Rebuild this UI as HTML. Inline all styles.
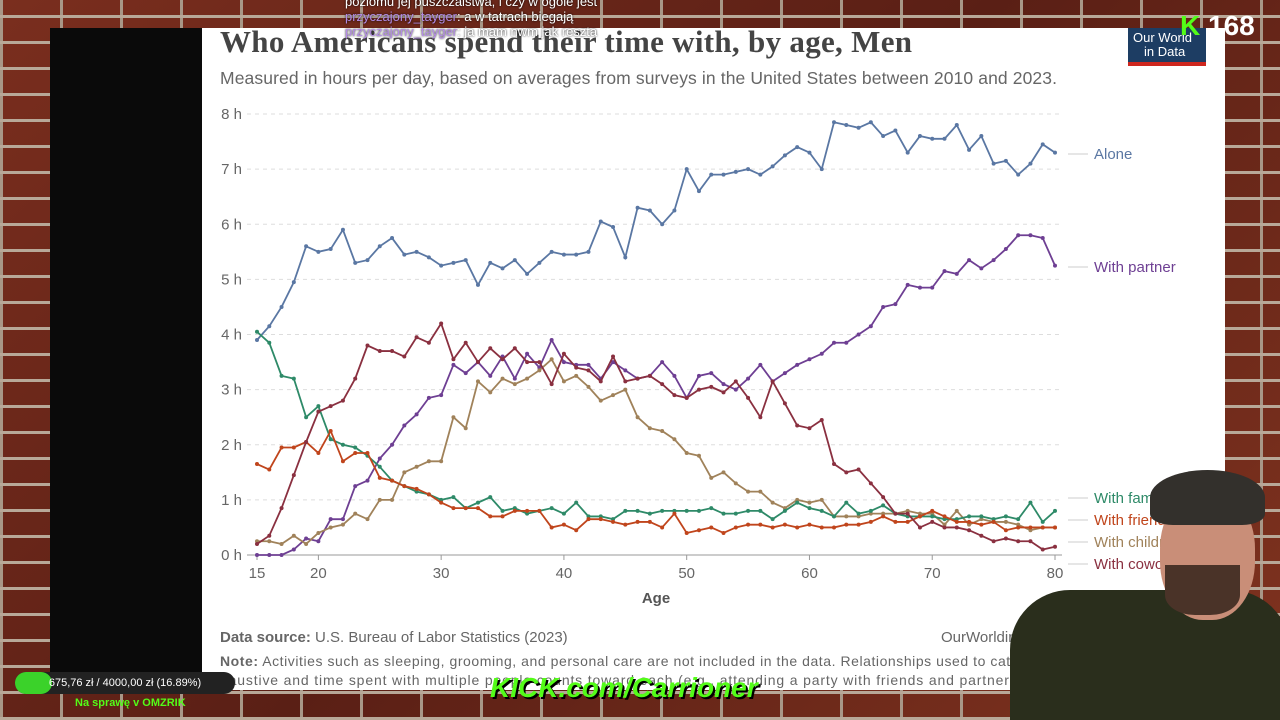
<!DOCTYPE html>
<html><head><meta charset="utf-8"><style>
html,body{margin:0;padding:0;width:1280px;height:720px;overflow:hidden;font-family:"Liberation Sans",sans-serif;position:relative}
#bg{position:absolute;left:0;top:0;width:1280px;height:720px;background:#6e2a1c;
background-image:repeating-linear-gradient(0deg,#b8a898 0 3px,transparent 3px 26px),repeating-linear-gradient(90deg,#a89787 0 3px,transparent 3px 60px),linear-gradient(135deg,#7a2e1e,#5a1f15 50%,#80331f);}
</style></head><body>
<div id="bg"></div>
<div style="position:absolute;left:50px;top:28px;width:152px;height:662px;background:#0a0a0a"></div>
<svg id="chart" width="1280" height="720" style="position:absolute;left:0;top:0">
<rect x="202" y="28" width="1023" height="662" fill="#fff"/>
<text x="220" y="52" font-family="Liberation Serif,serif" font-size="31" font-weight="bold" fill="#444" textLength="692">Who Americans spend their time with, by age, Men</text>
<text x="220" y="84" font-size="17.5" fill="#666" textLength="837">Measured in hours per day, based on averages from surveys in the United States between 2010 and 2023.</text>
<g id="grid"></g><g id="series"></g><g id="labels"></g>
<text x="656" y="603" font-size="15" font-weight="bold" fill="#555" text-anchor="middle">Age</text>
<text x="220" y="642" font-size="15" fill="#666"><tspan font-weight="bold">Data source:</tspan> U.S. Bureau of Labor Statistics (2023)</text>
<text x="941" y="642" font-size="15" fill="#666">OurWorldinData.org</text>
<text x="220" y="666" font-size="14" fill="#666" textLength="840"><tspan font-weight="bold">Note:</tspan> Activities such as sleeping, grooming, and personal care are not included in the data. Relationships used to categorize</text>
<text x="220" y="685" font-size="14" fill="#666" textLength="840">haustive and time spent with multiple people counts toward each (e.g., attending a party with friends and partner counts</text>
<rect x="1128" y="28" width="78" height="38" fill="#1d3d63"/>
<rect x="1128" y="62" width="78" height="4" fill="#ce261e"/>
<text x="1133" y="42" font-size="13" fill="#fff">Our World</text><text x="1144" y="56" font-size="13" fill="#fff">in Data</text>
</svg>
<div style="position:absolute;left:1180px;top:10px;color:#fff;font-size:28px;font-weight:bold"><span style="color:#53fc18">K</span> 168</div>
<div style="position:absolute;left:345px;top:-6px;color:#fff;font-size:13px;text-shadow:0 0 2px #000">poziomu jej puszczalstwa, i czy w ogóle jest<br><span style="color:#b48ce6">przyczajony_tayger</span>: a w tatrach biegają<br><span style="color:#b48ce6">przyczajony_tayger</span>: ja mam nwm jak reszta</div>
<div style="position:absolute;left:990px;top:470px;width:290px;height:250px;overflow:hidden">
<div style="position:absolute;left:20px;top:120px;width:280px;height:140px;background:#2a2e1c;border-radius:60px 60px 0 0"></div>
<div style="position:absolute;left:170px;top:20px;width:95px;height:130px;background:#c98e78;border-radius:45%"></div>
<div style="position:absolute;left:160px;top:0px;width:115px;height:55px;background:#33302c;border-radius:50% 50% 20% 20%"></div>
<div style="position:absolute;left:175px;top:95px;width:75px;height:50px;background:#4a3328;border-radius:0 0 40% 40%"></div>
</div>
<div style="position:absolute;left:15px;top:672px;width:220px;height:22px;background:#222;border-radius:11px;color:#fff;font-size:11px;line-height:22px;text-align:center"><div style="position:absolute;left:0;top:0;width:37px;height:22px;background:#3bd22a;border-radius:11px"></div><span style="position:relative">675,76 zł / 4000,00 zł (16.89%)</span></div>
<div style="position:absolute;left:75px;top:697px;color:#53fc18;font-size:11px;font-weight:bold">Na sprawę v OMZRIK</div>
<div style="position:absolute;left:490px;top:672px;color:#53fc18;font-size:28px;font-weight:bold;font-style:italic;text-shadow:2px 2px 0 #000">KICK.com/Carrioner</div>
<script>
const ages=[];for(let a=15;a<=80;a++)ages.push(a);
const yTicks=[0,1,2,3,4,5,6,7,8];
const xTicks=[15,20,30,40,50,60,70,80];
const alone=[3.9,4.15,4.5,4.95,5.6,5.5,5.55,5.9,5.3,5.35,5.6,5.75,5.45,5.5,5.4,5.25,5.3,5.35,4.9,5.3,5.2,5.35,5.1,5.3,5.5,5.45,5.45,5.5,6.05,5.95,5.4,6.3,6.25,6.0,6.25,7.0,6.6,6.9,6.9,6.95,7.0,6.9,7.05,7.25,7.4,7.3,7.0,7.85,7.8,7.75,7.85,7.6,7.7,7.3,7.6,7.55,7.55,7.8,7.35,7.6,7.1,7.15,6.9,7.1,7.45,7.3];
const partner=[0,0,0,0.1,0.3,0.25,0.65,0.65,1.25,1.35,1.75,2.0,2.35,2.55,2.85,2.9,3.45,3.3,3.5,3.25,3.6,3.2,3.65,3.4,3.9,3.5,3.45,3.45,3.2,3.5,3.35,3.2,3.25,3.5,3.25,2.85,3.25,3.3,3.1,3.0,3.2,3.45,3.15,3.3,3.45,3.55,3.65,3.85,3.85,4.0,4.15,4.5,4.55,4.9,4.85,4.85,5.15,5.1,5.35,5.2,5.35,5.55,5.8,5.8,5.75,5.25];
const family=[4.05,3.85,3.25,3.2,2.5,2.7,2.1,2.0,1.95,1.8,1.6,1.35,1.25,1.15,1.1,1.0,1.05,0.85,0.95,1.05,0.8,0.85,0.75,0.8,0.85,0.75,0.95,0.7,0.7,0.65,0.8,0.8,0.75,0.8,0.8,0.8,0.8,0.85,0.75,0.75,0.8,0.8,0.65,0.8,0.95,0.85,0.8,0.7,0.95,0.75,0.8,0.9,0.75,0.7,0.7,0.7,0.65,0.65,0.7,0.7,0.65,0.7,0.65,0.95,0.6,0.8];
const friends=[1.65,1.55,1.95,1.95,2.05,1.85,2.25,1.7,1.85,1.85,1.4,1.35,1.25,1.2,1.1,0.95,0.85,0.85,0.85,0.7,0.7,0.8,0.8,0.8,0.5,0.55,0.45,0.65,0.65,0.6,0.55,0.6,0.6,0.5,0.75,0.4,0.45,0.5,0.4,0.5,0.55,0.55,0.5,0.55,0.5,0.55,0.5,0.5,0.55,0.55,0.6,0.7,0.6,0.6,0.7,0.8,0.7,0.6,0.6,0.55,0.6,0.45,0.5,0.5,0.5,0.5];
const children=[0.25,0.25,0.2,0.35,0.2,0.4,0.5,0.55,0.75,0.65,1.0,1.0,1.5,1.6,1.7,1.7,2.5,2.3,3.15,2.95,3.2,3.1,3.2,3.35,3.55,3.15,3.25,3.05,2.8,2.9,3.0,2.5,2.3,2.25,2.1,1.85,1.8,1.4,1.5,1.3,1.15,1.15,0.95,0.85,1.0,0.95,1.0,0.7,0.7,0.7,0.75,0.75,0.75,0.8,0.75,0.75,0.55,0.8,0.55,0.65,0.6,0.6,0.55,0.45,0.5,0.5];
const coworkers=[0.2,0.35,0.85,1.45,2.05,2.6,2.7,2.8,3.2,3.8,3.7,3.7,3.6,3.95,3.85,4.2,3.55,3.85,3.5,3.75,3.55,3.75,3.5,3.5,3.1,3.65,3.4,3.35,3.15,3.6,3.15,3.2,3.25,3.1,2.9,2.85,3.0,3.05,2.95,3.15,2.85,2.5,3.15,2.75,2.35,2.3,2.45,1.65,1.5,1.55,1.3,1.05,0.75,0.75,0.5,0.6,0.5,0.5,0.45,0.35,0.25,0.3,0.25,0.25,0.1,0.15];
const X=a=>257+(a-15)*(1055-257)/65;
const Y=v=>555-v*(555-114)/8;
const NS="http://www.w3.org/2000/svg";
function mk(t,at,p){const e=document.createElementNS(NS,t);for(const k in at)e.setAttribute(k,at[k]);p.appendChild(e);return e;}
const grid=document.getElementById('grid');
yTicks.forEach(v=>{
 if(v>0){const l=mk('line',{x1:247,x2:1062,y1:Y(v),y2:Y(v),stroke:'#ddd','stroke-dasharray':'4,4'},grid);
 
 }
 const t=mk('text',{x:242,y:Y(v)+5,'font-size':15,fill:'#666','text-anchor':'end'},grid);t.textContent=v+' h';
 
 
});
mk('line',{x1:247,x2:1062,y1:555,y2:555,stroke:'#999'},grid);
xTicks.forEach(a=>{mk('line',{x1:X(a),x2:X(a),y1:555,y2:560,stroke:'#999'},grid);
 const t=mk('text',{x:X(a),y:578,'font-size':15,fill:'#666','text-anchor':'middle'},grid);t.textContent=a;
 
 });
const series=[['alone',alone,'#5a77a3','Alone',154],['with-partner',partner,'#6e3f93','With partner',267],['with-children',children,'#a0825a','With children',542],['with-family',family,'#2e8a68','With family',498],['with-friends',friends,'#c0451c','With friends',520],['with-coworkers',coworkers,'#8a3040','With coworkers',564]];
const sg=document.getElementById('series'),lg=document.getElementById('labels');
series.forEach(([n,d,c,lab,ly])=>{
 const p=mk('polyline',{points:d.map((v,i)=>X(ages[i])+','+Y(v)).join(' '),fill:'none',stroke:c,'stroke-width':1.8},sg);
 
 
 d.forEach((v,i)=>mk('circle',{cx:X(ages[i]),cy:Y(v),r:2,fill:c},sg));
 const t=mk('text',{x:1094,y:ly+5,'font-size':15,fill:c},lg);t.textContent=lab;
 
 
 mk('line',{x1:1068,x2:1088,y1:ly,y2:ly,stroke:'#ccc'},lg);
});
</script>
</body></html>
